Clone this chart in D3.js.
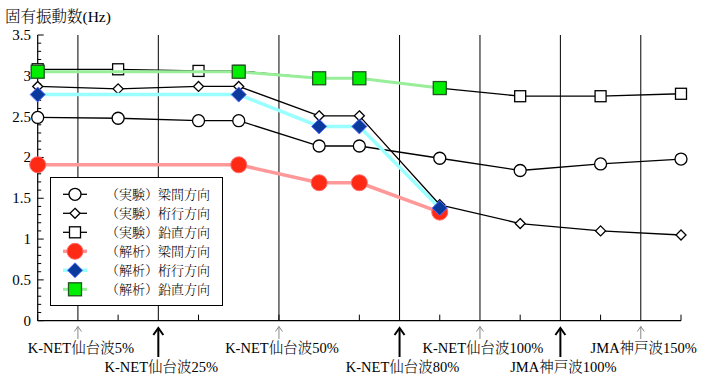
<!DOCTYPE html>
<html><head><meta charset="utf-8">
<script src="https://cdn.jsdelivr.net/npm/d3@7"></script>
<style>
body{margin:0;background:#fff;}
text{font-family:"Liberation Serif","Noto Serif CJK JP","Noto Sans CJK JP",serif;fill:#000;font-weight:300;}
</style></head><body>
<svg id="c" width="701" height="376"></svg>
<script>
// ---- data ----
const expX = [0, 2, 4, 5, 7, 8, 10, 12, 14, 16];
const expBeam = [2.49, 2.48, 2.45, 2.45, 2.14, 2.14, 1.99, 1.84, 1.92, 1.98];
const expGirder = [2.87, 2.84, 2.87, 2.87, 2.51, 2.51, 1.42, 1.19, 1.10, 1.05];
const expVert = [3.08, 3.08, 3.06, 3.06, 2.97, 2.97, 2.85, 2.75, 2.75, 2.78];
const anaX = [0, 5, 7, 8, 10];
const anaBeam = [1.91, 1.91, 1.69, 1.69, 1.33];
const anaGirder = [2.77, 2.77, 2.38, 2.38, 1.38];
const anaVert = [3.05, 3.05, 2.97, 2.97, 2.85];
const eventPos = [1, 3, 6, 9, 11, 13, 15];
const eventLabels = ["K-NET仙台波5%", "K-NET仙台波25%", "K-NET仙台波50%", "K-NET仙台波80%", "K-NET仙台波100%", "JMA神戸波100%", "JMA神戸波150%"];
const eventMajor = [false, true, false, true, false, true, false];
const yTicks = [0, 0.5, 1, 1.5, 2, 2.5, 3, 3.5];
const yTickLabels = ["0", "0.5", "1", "1.5", "2", "2.5", "3", "3.5"];
const legendLabels = ["（実験）梁間方向", "（実験）桁行方向", "（実験）鉛直方向", "（解析）梁間方向", "（解析）桁行方向", "（解析）鉛直方向"];
const yTitle = "固有振動数(Hz)";

// ---- layout ----
const svg = d3.select("#c");
const x = d3.scaleLinear().domain([0, 16]).range([37.7, 681]);
const y = d3.scaleLinear().domain([0, 3.5]).range([320.7, 35]);

// gridlines at events
svg.append("g").selectAll("line").data(eventPos).join("line")
  .attr("x1", d => x(d)).attr("x2", d => x(d))
  .attr("y1", y(3.5)).attr("y2", y(0))
  .attr("stroke", "#000").attr("stroke-width", 1);

// x axis line and ticks (inward)
svg.append("line").attr("x1", x(0)).attr("x2", x(16)).attr("y1", y(0)).attr("y2", y(0))
  .attr("stroke", "#000").attr("stroke-width", 1.2);
svg.append("g").selectAll("line").data(d3.range(0, 17, 2)).join("line")
  .attr("x1", d => x(d)).attr("x2", d => x(d))
  .attr("y1", y(0)).attr("y2", y(0) - 6)
  .attr("stroke", "#000").attr("stroke-width", 1);

// y axis
svg.append("line").attr("x1", x(0)).attr("x2", x(0)).attr("y1", y(0)).attr("y2", y(3.5))
  .attr("stroke", "#000").attr("stroke-width", 1.2);
const minor = d3.range(0, 36).map(i => i / 10);
svg.append("g").selectAll("line").data(minor).join("line")
  .attr("x1", x(0)).attr("x2", d => x(0) + (Math.abs(d * 2 - Math.round(d * 2)) < 1e-6 ? 6 : 3.5))
  .attr("y1", d => y(d)).attr("y2", d => y(d))
  .attr("stroke", "#000").attr("stroke-width", 1);
svg.append("g").selectAll("text").data(yTicks).join("text")
  .attr("x", 31).attr("y", d => y(d) + 5)
  .attr("text-anchor", "end").attr("font-size", 15)
  .text((d, i) => yTickLabels[i]);

// title
svg.append("text").attr("x", 5).attr("y", 22).attr("font-size", 15.5).text(yTitle);

// event arrows and labels
const ev = svg.append("g");
eventPos.forEach((p, i) => {
  const major = eventMajor[i];
  const col = major ? "#000" : "#888";
  const sw = major ? 2 : 1;
  const y0 = major ? 328 : 326.5;
  const y1 = major ? 357 : 339;
  const hx = major ? 5 : 3.5, hy = major ? 7 : 5;
  ev.append("line").attr("x1", x(p)).attr("x2", x(p)).attr("y1", y0).attr("y2", y1)
    .attr("stroke", col).attr("stroke-width", sw);
  ev.append("path").attr("d", `M${x(p) - hx},${y0 + hy}L${x(p)},${y0}L${x(p) + hx},${y0 + hy}`)
    .attr("fill", "none").attr("stroke", col).attr("stroke-width", sw);
  ev.append("text").attr("x", x(p) + 3).attr("y", major ? 372 : 353)
    .attr("text-anchor", "middle").attr("font-size", 14.5).text(eventLabels[i]);
});

// series styles
const series = [
  {xs: expX, ys: expBeam, shape: "circle", line: "#000", lw: 1.3, fill: "#fff", stroke: "#000", size: 6},
  {xs: expX, ys: expGirder, shape: "diamond", line: "#000", lw: 1.3, fill: "#fff", stroke: "#000", size: 5},
  {xs: expX, ys: expVert, shape: "square", line: "#000", lw: 1.3, fill: "#fff", stroke: "#000", size: 5.5},
  {xs: anaX, ys: anaBeam, shape: "circle", line: "#ff9999", lw: 3.5, fill: "#ff2a14", stroke: "#ff6a6a", size: 8},
  {xs: anaX, ys: anaGirder, shape: "diamond", line: "#99ffff", lw: 3.5, fill: "#0a3a9c", stroke: "#5a6cff", size: 7.5},
  {xs: anaX, ys: anaVert, shape: "square", line: "#99ee99", lw: 3, fill: "#00ee00", stroke: "#225522", size: 6.5},
];

function marker(g, shape, cx, cy, s, fill, stroke, sw) {
  if (shape === "circle") {
    g.append("circle").attr("cx", cx).attr("cy", cy).attr("r", s)
      .attr("fill", fill).attr("stroke", stroke).attr("stroke-width", sw);
  } else if (shape === "diamond") {
    g.append("path").attr("d", `M${cx},${cy - s}L${cx + s},${cy}L${cx},${cy + s}L${cx - s},${cy}Z`)
      .attr("fill", fill).attr("stroke", stroke).attr("stroke-width", sw);
  } else {
    g.append("rect").attr("x", cx - s).attr("y", cy - s).attr("width", 2 * s).attr("height", 2 * s)
      .attr("fill", fill).attr("stroke", stroke).attr("stroke-width", sw);
  }
}

const lineGen = d3.line().x(d => x(d[0])).y(d => y(d[1]));
series.forEach(s => {
  const g = svg.append("g");
  const pts = s.xs.map((v, i) => [v, s.ys[i]]);
  g.append("path").attr("d", lineGen(pts)).attr("fill", "none")
    .attr("stroke", s.line).attr("stroke-width", s.lw).attr("stroke-linejoin", "round");
  pts.forEach(p => marker(g, s.shape, x(p[0]), y(p[1]), s.size, s.fill, s.stroke, s === series[3] || s === series[4] ? 1 : 1.3));
});

// legend
const lg = svg.append("g");
lg.append("rect").attr("x", 50.5).attr("y", 177.5).attr("width", 172).attr("height", 128)
  .attr("fill", "#fff").attr("stroke", "#000").attr("stroke-width", 1);
series.forEach((s, i) => {
  const cy = 194.3 + i * 19;
  lg.append("line").attr("x1", 63).attr("x2", 87).attr("y1", cy).attr("y2", cy)
    .attr("stroke", s.line).attr("stroke-width", s.lw);
  marker(lg, s.shape, 75, cy, s.size, s.fill, s.stroke, i === 3 || i === 4 ? 1 : 1.3);
  lg.append("text").attr("x", 106).attr("y", cy + 5).attr("font-size", 13).text(legendLabels[i]);
});
</script></body></html>
